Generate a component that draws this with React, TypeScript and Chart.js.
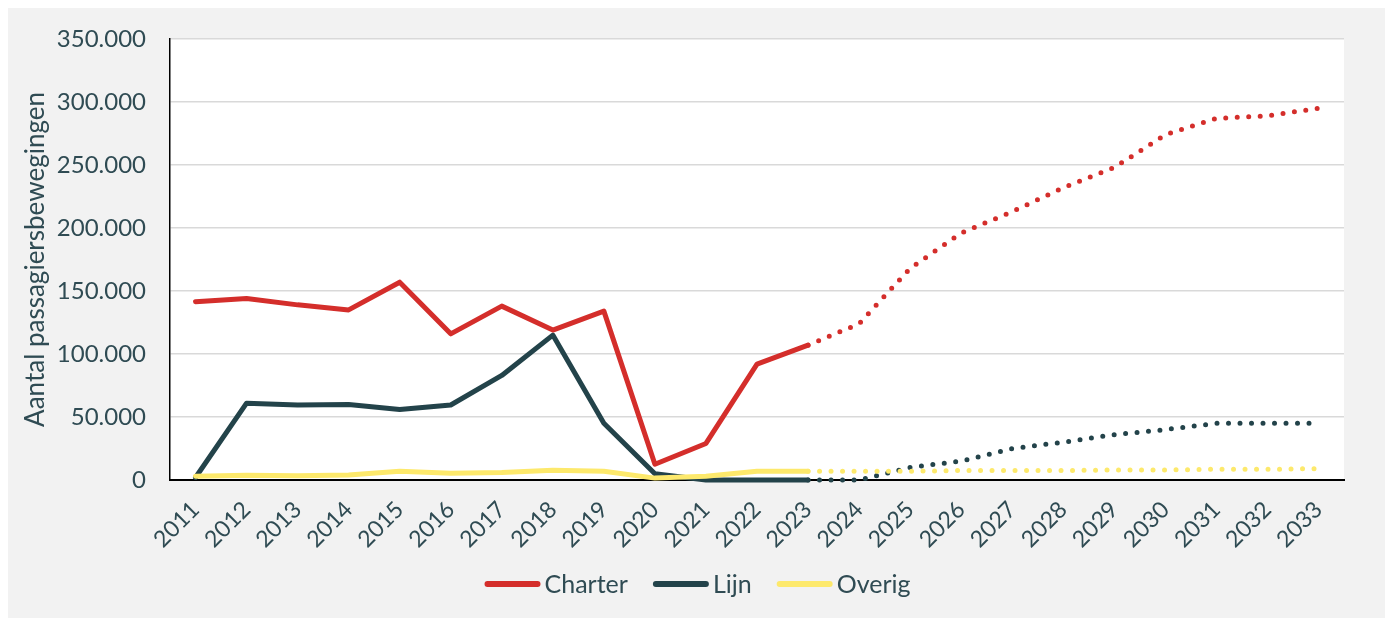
import React, { useEffect, useRef } from "react";
import { Chart, registerables } from "chart.js";

Chart.register(...registerables);

const years = ["2011","2012","2013","2014","2015","2016","2017","2018","2019","2020","2021","2022","2023","2024","2025","2026","2027","2028","2029","2030","2031","2032","2033"];
const charter = [141500,144000,139000,135000,157000,116000,138000,119000,134000,12500,29000,92000,107000,124000,168000,196000,213000,232000,248000,274000,287000,289000,295000];
const lijn = [2000,61000,59500,60000,56000,59500,83000,115000,45000,5000,0,0,0,0,10000,15000,25000,30000,36000,40000,45000,45000,45000];
const overig = [3000,3700,3400,4000,7000,5300,6000,7700,7000,1500,3000,7000,7000,7000,7000,7500,7500,7500,8000,8000,8500,8500,9000];
const seriesNames = ["Charter", "Lijn", "Overig"];
const seriesColors = ["#d42e2b", "#23434a", "#fde96c"];
const lastActualIndex = 12;

const TEXT = "#2f4b53";
const FONT = "Lato, 'DejaVu Sans', sans-serif";
const W = 1379;
const H = 612;

const fmt = (v: number) => String(Math.round(v)).replace(/\B(?=(\d{3})+(?!\d))/g, ".");

const whiteArea = {
  id: "whiteArea",
  beforeDraw(chart: any) {
    const { ctx, chartArea } = chart;
    ctx.save();
    ctx.fillStyle = "#ffffff";
    ctx.fillRect(chartArea.left, chartArea.top, chartArea.right - chartArea.left, chartArea.bottom - chartArea.top);
    ctx.restore();
  },
};

const customLegend = {
  id: "customLegend",
  afterDraw(chart: any) {
    const { ctx } = chart;
    const lineW = 56;
    const gapText = 4;
    const gapItem = 25;
    const y = 578;
    ctx.save();
    ctx.font = `25px ${FONT}`;
    const items = chart.data.datasets.map((d: any) => ({
      label: d.label,
      color: d.borderColor,
      tw: ctx.measureText(d.label).width,
    }));
    const total = items.reduce((s: number, it: any) => s + lineW + gapText + it.tw, 0) + gapItem * (items.length - 1);
    let x = W / 2 - total / 2;
    ctx.textBaseline = "middle";
    ctx.textAlign = "left";
    items.forEach((it: any) => {
      ctx.strokeStyle = it.color;
      ctx.lineWidth = 6;
      ctx.lineCap = "round";
      ctx.beginPath();
      ctx.moveTo(x + 3, y);
      ctx.lineTo(x + lineW - 3, y);
      ctx.stroke();
      ctx.fillStyle = TEXT;
      ctx.fillText(it.label, x + lineW + gapText, y + 1);
      x += lineW + gapText + it.tw + gapItem;
    });
    ctx.restore();
  },
};

const mkSet = (label: string, data: number[], color: string, order: number) => ({
  label,
  data,
  borderColor: color,
  backgroundColor: color,
  borderWidth: 5,
  pointRadius: 0,
  pointHoverRadius: 0,
  borderCapStyle: "round" as const,
  borderJoinStyle: "round" as const,
  tension: 0,
  order,
  clip: 6,
  segment: {
    borderDash: (ctx: any) => (ctx.p0DataIndex >= lastActualIndex ? [0, 11.5] : undefined),
  },
});

export default function App() {
  const ref = useRef<HTMLCanvasElement | null>(null);
  useEffect(() => {
    if (!ref.current) return;
    const chart = new Chart(ref.current, {
      type: "line",
      data: {
        labels: years,
        datasets: [
          mkSet(seriesNames[0], charter, seriesColors[0], 1),
          mkSet(seriesNames[1], lijn, seriesColors[1], 3),
          mkSet(seriesNames[2], overig, seriesColors[2], 2),
        ],
      },
      plugins: [whiteArea, customLegend],
      options: {
        responsive: false,
        animation: false,
        layout: { padding: { top: 33, right: 43, bottom: 56, left: 0 } },
        plugins: {
          tooltip: { enabled: false },
          legend: { display: false },
        },
        scales: {
          x: {
            offset: true,
            grid: { display: false, drawTicks: false },
            border: { display: true, color: "#000000", width: 2 },
            ticks: {
              color: TEXT,
              font: { family: FONT, size: 23 },
              maxRotation: 45,
              minRotation: 45,
              autoSkip: false,
              padding: 16,
            },
            afterFit: (s: any) => {
              s.height = 82;
            },
          },
          y: {
            min: 0,
            max: 350000,
            grid: { color: "#d9d9d9", lineWidth: 1.5, drawTicks: true, tickLength: 20, tickColor: "rgba(0,0,0,0)" },
            border: { display: true, color: "#000000", width: 1.5 },
            ticks: {
              stepSize: 50000,
              color: TEXT,
              font: { family: FONT, size: 24 },
              padding: 4,
              callback: (v: any) => fmt(Number(v)),
            },
            title: {
              display: true,
              text: "Aantal passagiersbewegingen",
              color: TEXT,
              font: { family: FONT, size: 26, weight: "normal" },
              padding: { top: 12, bottom: 0 },
            },
            afterFit: (s: any) => {
              s.width = 162;
            },
          },
        },
      },
    });
    return () => chart.destroy();
  }, []);
  return (
    <div style={{ background: "#f2f2f2", width: W, height: H, marginTop: -2 }}>
      <canvas ref={ref} width={W} height={H} style={{ display: "block" }} />
    </div>
  );
}
